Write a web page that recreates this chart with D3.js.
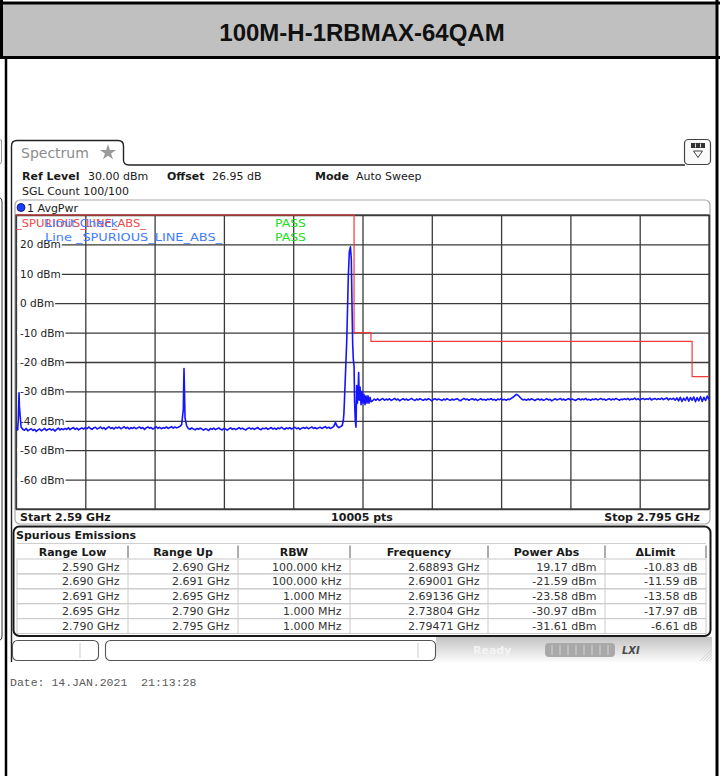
<!DOCTYPE html>
<html>
<head>
<meta charset="utf-8">
<script src="https://cdn.jsdelivr.net/npm/d3@7"></script>
<style>
html, body { margin: 0; padding: 0; background: #fff; }
svg { display: block; }
text { font-family: "DejaVu Sans", Verdana, sans-serif; }
</style>
</head>
<body>
<div id="chart"></div>
<script>
var titleText = "100M-H-1RBMAX-64QAM";
var startFreq = 2.59, stopFreq = 2.795;   // GHz
var refLevel = 30, bottomLevel = -70;      // dBm
var levelTicks = [20, 10, 0, -10, -20, -30, -40, -50, -60];

// noise floor below the carrier, one value every 0.5 MHz
var floorLowStart = 2.5900, floorLowStep = 0.0005;
var floorLow = [
    -42.4, -43.1, -35.0, -42.1, -42.9, -43.2, -42.6, -43.4, -43.0, -42.7,
    -43.3, -42.9, -43.6, -43.1, -42.8, -43.4, -43.0, -42.6, -43.3, -42.9,
    -42.7, -43.2, -42.8, -43.5, -42.9, -42.5, -43.1, -42.7, -43.0, -42.6,
    -42.9, -42.4, -43.0, -42.6, -42.3, -42.9, -42.5, -43.1, -42.7, -42.4,
    -42.8, -42.3, -42.7, -42.1, -42.6, -42.9, -42.4, -42.2, -42.8, -42.5,
    -42.1, -42.7, -42.3, -42.9, -42.4, -42.0, -42.6, -42.3, -42.8, -42.2,
    -42.5, -42.1, -42.7, -42.4, -42.0, -42.6, -42.2, -42.8, -42.3, -42.6,
    -42.2, -42.7, -42.4, -42.1, -42.6, -42.3, -42.9, -42.4, -42.1, -42.5,
    -42.3, -42.8, -42.4, -42.0, -42.6, -42.2, -42.7, -42.3, -42.5, -42.1,
    -42.6, -42.3, -42.0, -42.5, -42.1, -42.4, -42.2, -41.9, -41.3, -36.0,
    -39.0, -41.8, -42.6, -42.9, -42.4, -42.8, -43.1, -42.6, -42.9, -42.5,
    -42.8, -43.2, -42.7, -42.9, -43.3, -42.6, -42.9, -42.5, -43.0, -42.7,
    -42.4, -42.9, -43.1, -42.6, -42.8, -43.2, -42.7, -42.4, -42.9, -42.6,
    -43.0, -42.7, -42.3, -42.8, -42.5, -42.9, -43.1, -42.6, -42.4, -42.8,
    -42.5, -42.9, -42.6, -42.3, -42.8, -43.0, -42.5, -42.7, -42.4, -42.9,
    -42.6, -42.3, -42.8, -42.5, -42.9, -42.4, -42.7, -42.2, -42.6, -42.9,
    -42.4, -42.7, -42.3, -42.8, -42.5, -42.2, -42.7, -42.4, -42.9, -42.5,
    -42.3, -42.6, -42.2, -42.7, -42.4, -42.1, -42.6, -42.3, -42.7, -42.4,
    -42.2, -42.6, -42.3, -42.0, -42.5, -42.2, -42.6, -42.3, -41.9, -40.6,
    -41.8, -42.3, -42.0, -41.6
];

// floor above the band edge, one value every 0.5 MHz
var floorHighStart = 2.6955, floorHighStep = 0.0005;
var floorHigh = [
    -33.2, -32.6, -33.0, -32.5, -33.1, -32.7, -32.4, -33.0, -32.6, -32.9,
    -32.5, -33.1, -32.7, -32.4, -32.9, -32.6, -33.2, -32.8, -32.5, -32.9,
    -32.6, -33.0, -32.7, -32.4, -32.8, -33.1, -32.6, -32.9, -32.5, -32.8,
    -33.0, -32.6, -32.9, -32.5, -32.8, -33.2, -32.7, -32.5, -32.9, -32.6,
    -32.8, -33.1, -32.6, -32.9, -32.5, -32.8, -33.0, -32.6, -32.9, -32.7,
    -32.5, -32.9, -33.2, -32.7, -32.4, -32.8, -32.6, -33.0, -32.7, -32.5,
    -32.9, -32.6, -33.1, -32.8, -32.5, -32.9, -32.7, -33.0, -32.6, -32.8,
    -32.5, -32.9, -32.7, -33.1, -32.6, -32.8, -32.5, -32.9, -32.7, -33.0,
    -32.6, -32.8, -32.4, -32.0, -31.5, -31.0, -31.3, -31.9, -32.5, -32.9,
    -32.7, -33.0, -32.6, -32.9, -32.5, -32.8, -33.1, -32.7, -32.6, -32.9,
    -32.6, -33.0, -32.8, -32.5, -32.9, -32.7, -33.2, -32.8, -32.5, -32.9,
    -32.7, -32.4, -32.9, -32.6, -33.0, -32.7, -32.5, -32.9, -32.6, -32.8,
    -33.1, -32.7, -32.5, -32.9, -32.6, -32.8, -32.4, -32.9, -32.7, -33.0,
    -32.6, -32.8, -32.5, -32.9, -32.7, -32.4, -32.8, -32.6, -33.0, -32.7,
    -32.5, -32.9, -32.6, -32.8, -32.4, -32.7, -33.0, -32.6, -32.8, -32.5,
    -32.8, -32.4, -32.9, -32.6, -32.7, -32.3, -32.8, -32.5, -32.9, -32.6,
    -32.4, -32.8, -32.5, -32.7, -32.3, -32.9, -32.6, -32.4, -32.8, -32.5,
    -32.7, -32.3, -32.8, -32.5, -32.2, -32.9, -32.4, -32.7, -32.3, -33.0,
    -32.2, -33.2, -32.0, -33.4, -32.3, -33.1, -31.9, -33.3, -32.1, -33.0,
    -31.9, -33.5, -32.1, -33.2, -31.8, -33.4, -32.0, -33.1, -31.6, -32.8
];

// spurs and carrier, [GHz, dBm]
var peakPoints = [
    [2.5907, -39.0], [2.5909, -30.5],
    [2.6396, -28.0], [2.6397, -22.2], [2.6398, -27.5],
    [2.68682, -40.0], [2.68700, -37.5], [2.68720, -32.0], [2.68740, -26.0],
    [2.68760, -20.0], [2.68783, -13.0], [2.68805, -3.0], [2.68830, 9.0],
    [2.68860, 17.5], [2.68893, 19.17], [2.68919, 15.0], [2.68940, -1.0],
    [2.68960, -14.0], [2.68978, -19.0], [2.69001, -21.59], [2.69015, -33.0],
    [2.69037, -40.0], [2.69058, -42.2], [2.69078, -28.0], [2.69100, -34.0],
    [2.69120, -30.0], [2.69136, -23.58], [2.69154, -33.0], [2.69178, -28.5],
    [2.69207, -34.5], [2.69235, -30.0], [2.69265, -34.0], [2.69294, -31.0],
    [2.69324, -34.5], [2.69353, -31.5], [2.69383, -34.0], [2.69412, -31.5],
    [2.69442, -34.0], [2.69471, -32.0], [2.69501, -33.5]
];

var limitFreqs  = [2.590, 2.690, 2.691, 2.695, 2.790, 2.795];
var limitLevels = [30, -10, -10, -13, -25, -25];

var tableHeaders = ["Range Low", "Range Up", "RBW", "Frequency", "Power Abs", "\u0394Limit"];
var rangeLow   = ["2.590 GHz", "2.690 GHz", "2.691 GHz", "2.695 GHz", "2.790 GHz"];
var rangeUp    = ["2.690 GHz", "2.691 GHz", "2.695 GHz", "2.790 GHz", "2.795 GHz"];
var rbw        = ["100.000 kHz", "100.000 kHz", "1.000 MHz", "1.000 MHz", "1.000 MHz"];
var peakFreq   = ["2.68893 GHz", "2.69001 GHz", "2.69136 GHz", "2.73804 GHz", "2.79471 GHz"];
var powerAbs   = ["19.17 dBm", "-21.59 dBm", "-23.58 dBm", "-30.97 dBm", "-31.61 dBm"];
var deltaLimit = ["-10.83 dB", "-11.59 dB", "-13.58 dB", "-17.97 dB", "-6.61 dB"];

var W = 720, H = 776;
var svg = d3.select("#chart").append("svg").attr("width", W).attr("height", H);

function rule(x1, y1, x2, y2, w, c) {
    svg.append("line").attr("x1", x1).attr("y1", y1).attr("x2", x2).attr("y2", y2)
        .attr("stroke", c || "#000").attr("stroke-width", w);
}
function label(parent, x, y, txt, opts) {
    opts = opts || {};
    var t = parent.append("text").attr("x", x).attr("y", y)
        .style("font-size", (opts.size || 11) + "px")
        .attr("fill", opts.fill || "#1a1a1a")
        .text(txt);
    if (opts.bold) t.style("font-weight", "bold");
    if (opts.anchor) t.attr("text-anchor", opts.anchor);
    if (opts.len) t.attr("textLength", opts.len).attr("lengthAdjust", "spacingAndGlyphs");
    return t;
}

// ---- page frame / title cell
svg.append("rect").attr("x", 3).attr("y", 4).attr("width", 713).attr("height", 53).attr("fill", "#c0c0c0");
svg.append("text").attr("x", 362).attr("y", 41).attr("text-anchor", "middle")
    .style("font-family", "'Liberation Sans', Arial, sans-serif").style("font-weight", "bold")
    .style("font-size", "24px").attr("fill", "#111").text(titleText);
rule(0, 3, 720, 3, 3);
rule(0, 57.5, 720, 57.5, 3);
rule(1.5, 0, 1.5, 57, 3);
rule(6, 57, 6, H, 2.5);
rule(717, 0, 717, H, 3);
// bits of the neighbouring cell
svg.append("path").attr("d", "M0,140 L1.5,140 L1.5,160 Q1.5,164 0,164").attr("fill", "none").attr("stroke", "#999");
svg.append("path").attr("d", "M0,198 Q2,198 2,202 L2,636 Q2,640 0,640").attr("fill", "none").attr("stroke", "#333");

// ---- instrument screenshot chrome
svg.append("path")
    .attr("d", "M11.5,662 L11.5,146 Q11.5,140.5 17,140.5 L118,140.5 Q123.5,140.5 123.5,146 L123.5,160 Q123.5,165 129,165 L685,165")
    .attr("fill", "none").attr("stroke", "#222").attr("stroke-width", 1.4);
label(svg, 21, 157.5, "Spectrum", { size: 14, fill: "#8c8c8c" });
svg.append("path").attr("transform", "translate(108,152.5)")
    .attr("d", d3.symbol().type(d3.symbolStar).size(80)).attr("fill", "#9a9a9a");

var icon = svg.append("g");
icon.append("rect").attr("x", 684.5).attr("y", 139.5).attr("width", 26).attr("height", 25).attr("rx", 4)
    .attr("fill", "#fafafa").attr("stroke", "#444").attr("stroke-width", 1.2);
icon.append("rect").attr("x", 691).attr("y", 143).attr("width", 14).attr("height", 5).attr("fill", "#333");
[695.5, 700.5].forEach(function (vx) {
    icon.append("line").attr("x1", vx).attr("x2", vx).attr("y1", 143.5).attr("y2", 147.5)
        .attr("stroke", "#ddd").attr("stroke-width", 1);
});
icon.append("path").attr("d", "M693.5,151 L702.5,151 L698,157.5 Z")
    .attr("fill", "none").attr("stroke", "#444").attr("stroke-width", 1);

// ---- setting lines
label(svg, 22, 180, "Ref Level", { bold: true });
label(svg, 88, 180, "30.00 dBm");
label(svg, 167, 180, "Offset", { bold: true });
label(svg, 212, 180, "26.95 dB");
label(svg, 315, 180, "Mode", { bold: true });
label(svg, 356, 180, "Auto Sweep");
label(svg, 22, 195, "SGL Count 100/100");

// ---- trace window
svg.append("rect").attr("x", 15).attr("y", 200).attr("width", 695).attr("height", 324).attr("rx", 5)
    .attr("fill", "#fff").attr("stroke", "#a8a8a8").attr("stroke-width", 1.2);
svg.append("circle").attr("cx", 21).attr("cy", 207.5).attr("r", 4)
    .attr("fill", "#1c3cff").attr("stroke", "#001060").attr("stroke-width", 0.8);
label(svg, 27, 211.5, "1 AvgPwr");

var plotLeft = 16, plotRight = 709, plotTop = 215, plotBottom = 509;
var x = d3.scaleLinear().domain([startFreq, stopFreq]).range([plotLeft, plotRight]);
var y = d3.scaleLinear().domain([bottomLevel, refLevel]).range([plotBottom, plotTop]);

var plot = svg.append("g");
var xDivs = d3.range(11).map(function (i) { return startFreq + i * (stopFreq - startFreq) / 10; });
var yDivs = d3.range(bottomLevel, refLevel + 1, 10);

var gx = plot.append("g").attr("transform", "translate(0," + plotBottom + ")")
    .call(d3.axisBottom(x).tickValues(xDivs).tickSize(-(plotBottom - plotTop)).tickFormat(""));
var gy = plot.append("g").attr("transform", "translate(" + plotLeft + ",0)")
    .call(d3.axisLeft(y).tickValues(yDivs).tickSize(-(plotRight - plotLeft)).tickFormat(""));
[gx, gy].forEach(function (g) {
    g.select(".domain").remove();
    g.selectAll(".tick line").attr("stroke", "#3a3a3a").attr("stroke-width", 1.3);
});
plot.append("rect").attr("x", plotLeft).attr("y", plotTop)
    .attr("width", plotRight - plotLeft).attr("height", plotBottom - plotTop)
    .attr("fill", "none").attr("stroke", "#3a3a3a").attr("stroke-width", 1.3);

// level labels sit on the grid lines with a white gap behind them
levelTicks.forEach(function (t) {
    var gap = plot.append("rect").attr("fill", "#fff");
    var txt = label(plot, 20, y(t) + 4, t + " dBm", { size: 10.5, fill: "#222" });
    var wTxt = txt.node().getComputedTextLength();
    gap.attr("x", 17).attr("y", y(t) - 1.5).attr("width", wTxt + 4).attr("height", 3);
});

// limit line
var limitData = limitFreqs.map(function (f, i) { return [f, limitLevels[i]]; });
plot.append("path").datum(limitData)
    .attr("d", d3.line().x(function (d) { return x(d[0]); }).y(function (d) { return y(d[1]); })
        .curve(d3.curveStepAfter))
    .attr("fill", "none").attr("stroke", "#f23a3a").attr("stroke-width", 1.2);

// limit check texts (overlapping, as on the instrument screen)
label(plot, 16, 226.5, "_SPURIOUS_LINE_ABS_", { fill: "#f04a4a", len: 130 });
label(plot, 45, 226.5, "Limit Check", { fill: "#3f7cff", len: 73 });
label(plot, 275, 226.5, "PASS", { fill: "#22dd22", len: 31 });
label(plot, 45, 241, "Line _SPURIOUS_LINE_ABS_", { fill: "#3f7cff", len: 177 });
label(plot, 275, 241, "PASS", { fill: "#22dd22", len: 31 });

// trace
var trace = floorLow.map(function (v, i) { return [floorLowStart + i * floorLowStep, v]; })
    .concat(floorHigh.map(function (v, i) { return [floorHighStart + i * floorHighStep, v]; }))
    .concat(peakPoints)
    .sort(function (a, b) { return a[0] - b[0]; });
plot.append("path").datum(trace)
    .attr("d", d3.line().x(function (d) { return x(d[0]); }).y(function (d) { return y(d[1]); }))
    .attr("fill", "none").attr("stroke", "#1414ff").attr("stroke-width", 1.6)
    .attr("stroke-linejoin", "round");

label(svg, 20, 521, "Start 2.59 GHz", { bold: true });
label(svg, 362, 521, "10005 pts", { bold: true, anchor: "middle" });
label(svg, 700, 521, "Stop 2.795 GHz", { bold: true, anchor: "end" });

// ---- result table
var tbl = svg.append("g");
tbl.append("rect").attr("x", 13.5).attr("y", 526.5).attr("width", 697).attr("height", 109.5).attr("rx", 6)
    .attr("fill", "#fff").attr("stroke", "#1a1a1a").attr("stroke-width", 2);
label(tbl, 16, 539, "Spurious Emissions", { bold: true });

var colEdges = [17, 128, 238, 350, 488, 605, 706];
var headTop = 543.5, headBottom = 559, rowH = 14.9;
var columns = [rangeLow, rangeUp, rbw, peakFreq, powerAbs, deltaLimit];

tbl.append("line").attr("x1", colEdges[0]).attr("x2", colEdges[6]).attr("y1", headTop).attr("y2", headTop)
    .attr("stroke", "#cfcfcf");
tableHeaders.forEach(function (h, j) {
    label(tbl, (colEdges[j] + colEdges[j + 1]) / 2, 556, h, { bold: true, anchor: "middle" });
    if (j > 0) {
        tbl.append("line").attr("x1", colEdges[j]).attr("x2", colEdges[j])
            .attr("y1", headTop + 2).attr("y2", headBottom - 1).attr("stroke", "#8a8a8a").attr("stroke-width", 1.4);
    }
});
tbl.append("line").attr("x1", colEdges[6]).attr("x2", colEdges[6])
    .attr("y1", headTop + 2).attr("y2", headBottom - 1).attr("stroke", "#8a8a8a").attr("stroke-width", 1.4);

rangeLow.forEach(function (d, i) {
    var top = headBottom + i * rowH;
    tbl.append("rect").attr("x", colEdges[0]).attr("y", top).attr("width", colEdges[6] - colEdges[0])
        .attr("height", rowH).attr("fill", "none").attr("stroke", "#cacaca").attr("stroke-width", 1);
    columns.forEach(function (col, j) {
        if (j > 0) {
            tbl.append("line").attr("x1", colEdges[j]).attr("x2", colEdges[j]).attr("y1", top).attr("y2", top + rowH)
                .attr("stroke", "#cacaca");
        }
        label(tbl, colEdges[j + 1] - 8.5, top + 11.5, col[i], { anchor: "end", fill: "#333" });
    });
});

// ---- status bar
var bar = svg.append("g");
var grad = svg.append("defs").append("linearGradient").attr("id", "barGrad")
    .attr("x1", 0).attr("y1", 0).attr("x2", 0).attr("y2", 1);
grad.append("stop").attr("offset", "0%").attr("stop-color", "#c4c4c4");
grad.append("stop").attr("offset", "100%").attr("stop-color", "#fbfbfb");
bar.append("rect").attr("x", 436).attr("y", 637).attr("width", 276).attr("height", 25).attr("fill", "url(#barGrad)");
bar.append("rect").attr("x", 12.5).attr("y", 640.5).attr("width", 86).attr("height", 20).attr("rx", 5)
    .attr("fill", "#fff").attr("stroke", "#555").attr("stroke-width", 1.1);
bar.append("line").attr("x1", 80).attr("x2", 80).attr("y1", 643).attr("y2", 658).attr("stroke", "#ccc");
bar.append("rect").attr("x", 105.5).attr("y", 640.5).attr("width", 330).attr("height", 20).attr("rx", 5)
    .attr("fill", "#fff").attr("stroke", "#555").attr("stroke-width", 1.1);
bar.append("line").attr("x1", 418).attr("x2", 418).attr("y1", 643).attr("y2", 658).attr("stroke", "#ccc");
label(bar, 473, 654, "Ready", { bold: true, fill: "#f4f4f4" });
bar.append("rect").attr("x", 545).attr("y", 643).attr("width", 70).attr("height", 14).attr("rx", 4).attr("fill", "#a9a9a9");
d3.range(8).forEach(function (k) {
    bar.append("line").attr("x1", 552 + k * 8).attr("x2", 552 + k * 8).attr("y1", 645).attr("y2", 655)
        .attr("stroke", "#d2d2d2").attr("stroke-width", 1);
});
label(bar, 622, 654, "LXI", { bold: true, fill: "#4a4a4a", size: 10 }).style("font-style", "italic");
d3.range(4).forEach(function (k) {
    bar.append("line").attr("x1", 700 + k * 3).attr("y1", 661).attr("x2", 712).attr("y2", 649 + k * 3)
        .attr("stroke", "#cfcfcf").attr("stroke-width", 0.8);
});

// ---- timestamp
svg.append("text").attr("x", 10).attr("y", 686)
    .style("font-family", "'Liberation Mono', 'DejaVu Sans Mono', monospace").style("font-size", "11.5px")
    .style("white-space", "pre").attr("fill", "#5a5a5a")
    .text("Date: 14.JAN.2021  21:13:28");
</script>
</body>
</html>
